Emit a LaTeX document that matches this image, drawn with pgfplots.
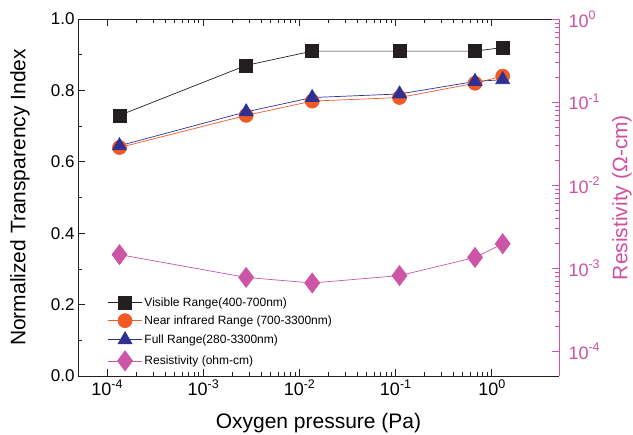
\documentclass[border=0pt]{standalone}
\usepackage{pgfplots}
\pgfplotsset{compat=1.18}
\usepackage{fontspec}
\setmainfont{Liberation Sans}
\definecolor{cBlack}{RGB}{35,31,32}
\definecolor{cOrange}{RGB}{241,90,36}
\definecolor{cNavy}{RGB}{46,49,146}
\definecolor{cPink}{RGB}{204,85,165}
\definecolor{cPinkT}{RGB}{208,80,160}
\newcommand{\tp}[1]{10\raisebox{0.42em}{\fontsize{12.5}{13}\selectfont #1}}
\begin{document}
\begin{tikzpicture}
\begin{axis}[
  name=a,
  scale only axis, width=481pt, height=357pt,
  xmode=log, xmin=5e-5, xmax=5,
  ymin=0, ymax=1,
  axis x line*=box, axis y line*=left,
  axis line style={color=cBlack, line width=0.8pt},
  tick align=inside, xtick pos=both, ytick pos=left,
  major tick length=7pt, minor tick length=4pt,
  every tick/.style={cBlack, line width=0.6pt},
  xtick={1e-4,1e-3,1e-2,1e-1,1},
  xticklabels={\tp{-4},\tp{-3},\tp{-2},\tp{-1},\tp{0}},
  ytick={0,0.2,0.4,0.6,0.8,1.0},
  minor ytick={0.1,0.3,0.5,0.7,0.9},
  yticklabel style={font=\fontsize{17}{20}\selectfont, /pgf/number format/.cd, fixed, fixed zerofill, precision=1, assume math mode=true},
  xticklabel style={font=\fontsize{18}{20}\selectfont},
  xlabel={Oxygen pressure (Pa)},
  ylabel={Normalized Transparency Index},
  label style={font=\fontsize{21}{24}\selectfont, inner sep=0pt},
  xlabel style={at={(axis description cs:0.5,-0.1317)}, anchor=center},
  ylabel style={at={(axis description cs:-0.1206,0.5)}, anchor=center},
]
\addplot[cBlack, line width=0.7pt, mark=square*, mark size=6.5pt, mark options={solid}] coordinates {
 (1.35e-4,0.73) (2.8e-3,0.87) (1.36e-2,0.91) (0.11,0.91) (0.67,0.91) (1.3,0.92)};
\addplot[cOrange, line width=0.7pt, mark=*, mark size=7pt] coordinates {
 (1.35e-4,0.64) (2.8e-3,0.73) (1.36e-2,0.77) (0.11,0.78) (0.67,0.82) (1.3,0.84)};
\addplot[cNavy, line width=0.7pt, mark=triangle*, mark size=8pt] coordinates {
 (1.35e-4,0.645) (2.8e-3,0.74) (1.36e-2,0.78) (0.11,0.79) (0.67,0.825) (1.3,0.83)};
\end{axis}
\begin{axis}[
  scale only axis, width=481pt, height=357pt,
  xmode=log, xmin=5e-5, xmax=5,
  ymode=log, ymin=5e-5, ymax=1,
  axis x line=none, axis y line*=right,
  y axis line style={color=cPink, line width=0.8pt},
  tick align=inside, ytick pos=right,
  major tick length=7pt, minor tick length=4pt,
  every tick/.style={cPink, line width=0.6pt},
  ytick={1e-4,1e-3,1e-2,1e-1,1},
  yticklabels={\tp{-4},\tp{-3},\tp{-2},\tp{-1},\tp{0}},
  yticklabel style={font=\fontsize{18}{20}\selectfont, text=cPinkT, xshift=6pt},
  ylabel={Resistivity (Ω-cm)},
  ylabel style={font=\fontsize{21}{24}\selectfont, text=cPinkT, inner sep=0pt,
    at={(axis description cs:1.131,0.5)}, anchor=center},
  legend cell align=left,
  legend style={draw=none, fill=none, at={(0.055,0.232)}, anchor=north west,
    font=\fontsize{12}{14}\selectfont, row sep=4pt},
  legend image code/.code={\draw[mark repeat=2,mark phase=2] plot coordinates {(0cm,0cm) (0.6cm,0cm) (1.2cm,0cm)};},
]
\addlegendimage{cBlack, line width=0.7pt, mark=square*, mark size=6.5pt}
\addlegendentry{Visible Range(400-700nm)}
\addlegendimage{cOrange, line width=0.7pt, mark=*, mark size=7pt}
\addlegendentry{Near infrared Range (700-3300nm)}
\addlegendimage{cNavy, line width=0.7pt, mark=triangle*, mark size=8pt}
\addlegendentry{Full Range(280-3300nm)}
\addplot[cPink, line width=0.7pt, mark=diamond*, mark size=10pt] coordinates {
 (1.35e-4,1.45e-3) (2.8e-3,7.7e-4) (1.36e-2,6.6e-4) (0.11,8.1e-4) (0.67,1.34e-3) (1.3,1.96e-3)};
\addlegendentry{Resistivity (ohm-cm)}
\end{axis}
\path (a.south west) ++(-78pt,-59pt);
\path (a.north east) ++(74pt,19pt);
\end{tikzpicture}
\end{document}
